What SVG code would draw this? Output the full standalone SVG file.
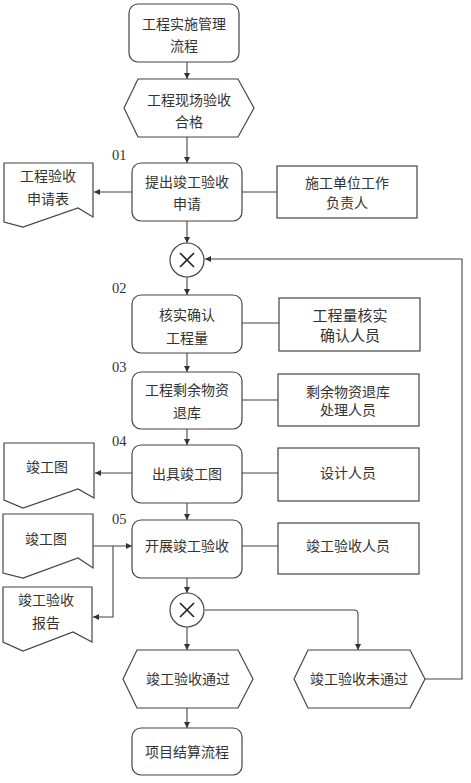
<svg xmlns="http://www.w3.org/2000/svg" width="471" height="783" viewBox="0 0 471 783">
<style>
.s{fill:#fff;stroke:#444;stroke-width:1.2}
.t{font-family:"Liberation Serif","Noto Sans CJK SC",serif;font-size:14px;fill:#333;text-anchor:middle;dominant-baseline:central}
.n{font-family:"Liberation Serif",serif;font-size:14.5px;fill:#333;dominant-baseline:central}
.c{fill:none;stroke:#444;stroke-width:1.1}
.x{fill:none;stroke:#222;stroke-width:1.6}
</style>
<defs>
<marker id="a" markerUnits="userSpaceOnUse" markerWidth="7" markerHeight="7" refX="6" refY="3" orient="auto">
<path d="M0,0 L6,3 L0,6 z" fill="#333"/>
</marker>
</defs>
<rect width="471" height="783" fill="#fff"/>
<g id="connectors">
<path class="c" d="M187,62 V79" marker-end="url(#a)"/>
<path class="c" d="M187,137 V163" marker-end="url(#a)"/>
<path class="c" d="M132,192 H94" marker-end="url(#a)"/>
<path class="c" d="M242,192 H277"/>
<path class="c" d="M187,221 V243" marker-end="url(#a)"/>
<path class="c" d="M425,679 H462 V259 H205" marker-end="url(#a)"/>
<path class="c" d="M187,277 V295" marker-end="url(#a)"/>
<path class="c" d="M242,323 H279"/>
<path class="c" d="M187,353 V372" marker-end="url(#a)"/>
<path class="c" d="M242,400 H278"/>
<path class="c" d="M187,429 V445" marker-end="url(#a)"/>
<path class="c" d="M132,473 H95" marker-end="url(#a)"/>
<path class="c" d="M242,473 H278"/>
<path class="c" d="M187,503 V520" marker-end="url(#a)"/>
<path class="c" d="M93,546 H132" marker-end="url(#a)"/>
<path class="c" d="M113,546 V617 H93" marker-end="url(#a)"/>
<path class="c" d="M242,546 H278"/>
<path class="c" d="M187,578 V593" marker-end="url(#a)"/>
<path class="c" d="M205,610 H354 Q358,610 358,614 V650" marker-end="url(#a)"/>
<path class="c" d="M187,627 V650" marker-end="url(#a)"/>
<path class="c" d="M187,708 V728" marker-end="url(#a)"/>
</g>
<g id="start">
<rect class="s" x="129" y="4" width="110" height="58" rx="9"/>
<text class="t" x="184" y="24">工程实施管理</text>
<text class="t" x="184" y="46">流程</text>
</g>
<g id="ev1">
<polygon class="s" points="124,108 138,79 238,79 254,108 238,137 138,137"/>
<text class="t" x="189" y="100">工程现场验收</text>
<text class="t" x="189" y="122">合格</text>
</g>
<text class="n" x="112" y="155">01</text>
<g id="step1">
<rect class="s" x="132" y="163" width="110" height="58" rx="9"/>
<text class="t" x="187" y="182">提出竣工验收</text>
<text class="t" x="187" y="204">申请</text>
</g>
<g id="doc1">
<path class="s" d="M4,163 H93 V217 L78,208 L23,227 L4,222 Z"/>
<text class="t" x="48" y="176">工程验收</text>
<text class="t" x="48" y="199">申请表</text>
</g>
<g id="role1">
<rect class="s" x="277" y="166" width="140" height="52"/>
<text class="t" x="347" y="183">施工单位工作</text>
<text class="t" x="347" y="203">负责人</text>
</g>
<g id="x1">
<circle class="s" cx="187" cy="260" r="17"/>
<path class="x" d="M180,253 L194,267 M194,253 L180,267"/>
</g>
<text class="n" x="112" y="288">02</text>
<g id="step2">
<rect class="s" x="132" y="295" width="110" height="58" rx="9"/>
<text class="t" x="187" y="315">核实确认</text>
<text class="t" x="187" y="338">工程量</text>
</g>
<g id="role2">
<rect class="s" x="279" y="298" width="141" height="53"/>
<text class="t" x="350" y="316" style="font-size:15px">工程量核实</text>
<text class="t" x="350" y="336" style="font-size:15px">确认人员</text>
</g>
<text class="n" x="112" y="367">03</text>
<g id="step3">
<rect class="s" x="132" y="372" width="110" height="57" rx="9"/>
<text class="t" x="187" y="390">工程剩余物资</text>
<text class="t" x="187" y="413">退库</text>
</g>
<g id="role3">
<rect class="s" x="278" y="374" width="141" height="52"/>
<text class="t" x="348" y="392">剩余物资退库</text>
<text class="t" x="348" y="410">处理人员</text>
</g>
<text class="n" x="112" y="441">04</text>
<g id="step4">
<rect class="s" x="132" y="445" width="110" height="58" rx="9"/>
<text class="t" x="187" y="474">出具竣工图</text>
</g>
<g id="doc2">
<path class="s" d="M4,443 H94 V498 L78,489 L23,508 L4,500 Z"/>
<text class="t" x="47" y="467">竣工图</text>
</g>
<g id="role4">
<rect class="s" x="278" y="448" width="141" height="53"/>
<text class="t" x="348" y="473">设计人员</text>
</g>
<text class="n" x="112" y="519">05</text>
<g id="step5">
<rect class="s" x="132" y="520" width="110" height="58" rx="9"/>
<text class="t" x="187" y="546">开展竣工验收</text>
</g>
<g id="doc3">
<path class="s" d="M3,514 H93 V568 L78,558 L23,578 L3,573 Z"/>
<text class="t" x="46" y="539">竣工图</text>
</g>
<g id="role5">
<rect class="s" x="278" y="523" width="141" height="51"/>
<text class="t" x="348" y="546">竣工验收人员</text>
</g>
<g id="doc4">
<path class="s" d="M3,587 H92 V642 L73,632 L23,651 L3,642 Z"/>
<text class="t" x="46" y="600">竣工验收</text>
<text class="t" x="46" y="623">报告</text>
</g>
<g id="x2">
<circle class="s" cx="187" cy="610" r="17"/>
<path class="x" d="M180,603 L194,617 M194,603 L180,617"/>
</g>
<g id="pass">
<polygon class="s" points="123,679 137,650 238,650 253,679 238,708 137,708"/>
<text class="t" x="188" y="679">竣工验收通过</text>
</g>
<g id="fail">
<polygon class="s" points="294,679 308,650 410,650 425,679 410,708 308,708"/>
<text class="t" x="359" y="679">竣工验收未通过</text>
</g>
<g id="end">
<rect class="s" x="132" y="728" width="110" height="47" rx="9"/>
<text class="t" x="187" y="752">项目结算流程</text>
</g>
</svg>
